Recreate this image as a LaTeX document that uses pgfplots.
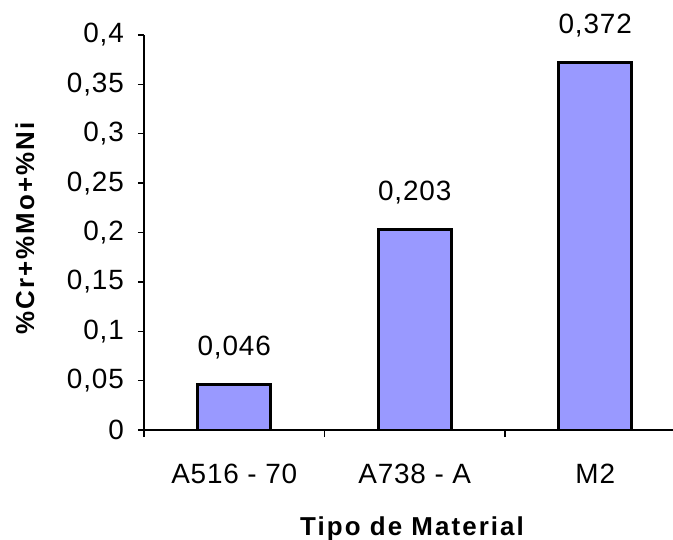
\documentclass[border=0pt]{standalone}
\usepackage{fontspec}
\setmainfont{Liberation Sans}
\newfontfamily\tickfont[LetterSpace=3]{Liberation Sans}
\newfontfamily\labfont[LetterSpace=8]{Liberation Sans}
\usepackage{pgfplots}
\pgfplotsset{compat=1.18}

\definecolor{barfill}{HTML}{9999FF}

\begin{document}
\begin{tikzpicture}
% fixed frame: the category axis runs on past the right edge
\path[use as bounding box] (-144bp,-110bp) rectangle (529bp,430bp);
\begin{axis}[
  at={(0,0)}, anchor=south west,
  scale only axis,
  width=541.5bp, height=395bp,
  xmin=-0.5, xmax=2.5,
  ymin=0, ymax=0.4,
  axis lines=left,
  axis line style={-, line width=1.3bp, black},
  xtick={0,1,2},
  xticklabels={A516 - 70, A738 - A, M2},
  major x tick style={draw=none},
  minor xtick={-0.5,0.5,1.5,2.5},
  minor x tick style={line width=1.3bp, black},
  ytick={0,0.05,0.1,0.15,0.2,0.25,0.3,0.35,0.4},
  yticklabels={0,{0,05},{0,1},{0,15},{0,2},{0,25},{0,3},{0,35},{0,4}},
  y tick style={line width=1.3bp, black},
  tick align=outside,
  major tick length=6bp,
  minor tick length=7bp,
  yticklabel style={font=\tickfont\fontsize{28}{32}\selectfont, inner sep=0pt, anchor=east, xshift=-14bp},
  xticklabel style={font=\tickfont\fontsize{28}{32}\selectfont, inner sep=0pt, anchor=north, yshift=-28bp},
  xlabel={Tipo de Material},
  ylabel={\%Cr+\%Mo+\%Ni},
  xlabel style={font=\labfont\bfseries\fontsize{26}{30}\selectfont, inner sep=0pt,
    at={(axis description cs:0.495,0)}, anchor=base, yshift=-105bp},
  ylabel style={font=\labfont\bfseries\fontsize{26}{30}\selectfont, inner sep=0pt,
    at={(axis description cs:-0.22,0.51)}, anchor=center},
  clip=false,
]
\addplot[ybar, bar width=73bp, fill=barfill, draw=black, line width=2.8bp,
  point meta=explicit symbolic,
  nodes near coords,
  every node near coord/.append style={font=\tickfont\fontsize{28}{32}\selectfont, black, inner sep=0pt, anchor=base, yshift=29bp}]
  coordinates {(0,0.046) [0,046] (1,0.203) [0,203] (2,0.372) [0,372]};
\end{axis}
\end{tikzpicture}
\end{document}
